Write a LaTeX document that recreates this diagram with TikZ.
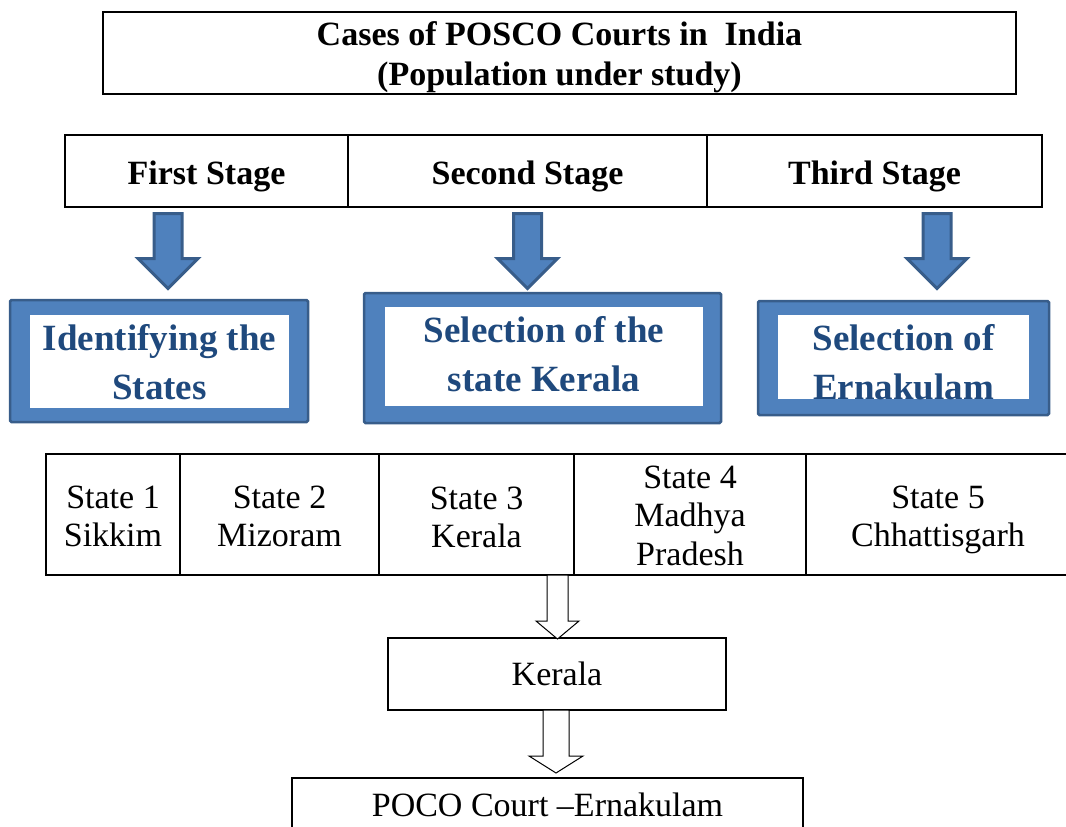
\documentclass[tikz,border=0pt]{standalone}
\usepackage{fontspec}
\setmainfont{Liberation Serif}
\usetikzlibrary{calc}
\definecolor{bfill}{HTML}{4F81BD}
\definecolor{bline}{HTML}{385D8A}
\definecolor{btext}{HTML}{1F497D}
\newcommand\blockarrow[6]{\draw[#1] let \p1=(#2), \p2=(#3) in (\x2-#4,\y1) -- (\x2+#4,\y1) -- (\x2+#4,\y2+#6) -- (\x2+#5,\y2+#6) -- (\x2,\y2) -- (\x2-#5,\y2+#6) -- (\x2-#4,\y2+#6) -- cycle;}
\tikzset{
  plain/.style={draw=black, line width=1.6pt, inner sep=0pt},
  txt/.style={inner sep=0pt, align=center},
  boldtxt/.style={txt, font=\bfseries\fontsize{34}{40}\selectfont},
  normtxt/.style={txt, font=\fontsize{34}{38.5}\selectfont},
  blueouter/.style={draw=bline, fill=bfill, line width=2.5pt, rounded corners=1.5pt, inner sep=0pt},
  blueinner/.style={fill=white, inner sep=0pt},
  bluetxt/.style={text=btext, align=center, inner sep=0pt, font=\bfseries\fontsize{37}{49}\selectfont},
  bluearrow/.style={fill=bfill, draw=bline, line width=3pt, line join=miter},
  whitearrow/.style={fill=white, draw=black, line width=1pt, line join=miter}
}
\begin{document}
\begin{tikzpicture}[x=1pt, y=-1pt]
\useasboundingbox (0,0) rectangle (1066,827);
% title
\node[plain, minimum width=913, minimum height=82] (title) at (559.5,53) {};
\node[boldtxt] (titlet) at (559.5,57.5) {Cases of POSCO Courts in\ \ India\\(Population under study)};
% stages
\node[plain, minimum width=283, minimum height=72] (s1) at (206.5,171) {};
\node[plain, minimum width=359, minimum height=72] (s2) at (527.5,171) {};
\node[plain, minimum width=335, minimum height=72] (s3) at (874.5,171) {};
\node[boldtxt] (s1t) at (206.5,176) {First Stage};
\node[boldtxt] (s2t) at (527.5,176) {Second Stage};
\node[boldtxt] (s3t) at (874.5,176) {Third Stage};
% blue boxes
\node[blueouter, minimum width=298, minimum height=122] (b1o) at (159,361) {};
\node[blueinner, minimum width=259, minimum height=93] (b1i) at (159.5,361.5) {};
\node[bluetxt] (b1) at (159.5,362) {Identifying the\\States};
\node[blueouter, minimum width=357, minimum height=130] (b2o) at (542.5,358) {};
\node[blueinner, minimum width=318, minimum height=99] (b2i) at (544,356.5) {};
\node[bluetxt] (b2) at (544,354) {Selection of the\\state Kerala};
\node[blueouter, minimum width=291, minimum height=114] (b3o) at (903.5,358) {};
\node[blueinner, minimum width=251, minimum height=84] (b3i) at (903.5,357) {};
\begin{scope}
\clip (b3i.south west) rectangle (b3i.north east);
\node[bluetxt] (b3) at (903.5,362) {Selection of\\Ernakulam};
\end{scope}
% blue arrows
\coordinate (a1t) at (168,213.5);
\coordinate (a1b) at (168,288.5);
\coordinate (a2t) at (527.5,213.5);
\coordinate (a2b) at (527.5,288.5);
\coordinate (a3t) at (937,213.5);
\coordinate (a3b) at (937,288.5);
\blockarrow{bluearrow}{a1t}{a1b}{14pt}{30pt}{30pt}
\blockarrow{bluearrow}{a2t}{a2b}{14pt}{30pt}{30pt}
\blockarrow{bluearrow}{a3t}{a3b}{14pt}{30pt}{30pt}
% states table
\node[plain, minimum width=134, minimum height=121] (c1) at (113,514.5) {};
\node[plain, minimum width=199, minimum height=121] (c2) at (279.5,514.5) {};
\node[plain, minimum width=195, minimum height=121] (c3) at (476.5,514.5) {};
\node[plain, minimum width=232, minimum height=121] (c4) at (690,514.5) {};
\node[plain, minimum width=264, minimum height=121] (c5) at (938,514.5) {};
\node[normtxt] (c1t) at (113,516.5) {State 1\\Sikkim};
\node[normtxt] (c2t) at (279.5,516.5) {State 2\\Mizoram};
\node[normtxt] (c3t) at (476.5,517.5) {State 3\\Kerala};
\node[normtxt] (c4t) at (690,515.5) {State 4\\Madhya\\Pradesh};
\node[normtxt] (c5t) at (938,520) {State 5\\Chhattisgarh};
% lower boxes
\node[plain, line width=1.3pt, minimum width=338, minimum height=72] (k) at (557,674) {};
\node[normtxt] (kt) at (557,674) {Kerala};
\node[plain, line width=1.3pt, minimum width=511, minimum height=54] (p) at (547.5,805) {};
\node[normtxt] (pt) at (547.5,805) {POCO Court --Ernakulam};
% white arrows
\coordinate (w1t) at (557.5,575);
\coordinate (w1b) at (557.5,639);
\coordinate (w2t) at (556,710);
\coordinate (w2b) at (556,773);
\blockarrow{whitearrow}{w1t}{w1b}{10.5pt}{21.5pt}{18pt}
\blockarrow{whitearrow}{w2t}{w2b}{13pt}{27pt}{17pt}
\end{tikzpicture}
\end{document}
